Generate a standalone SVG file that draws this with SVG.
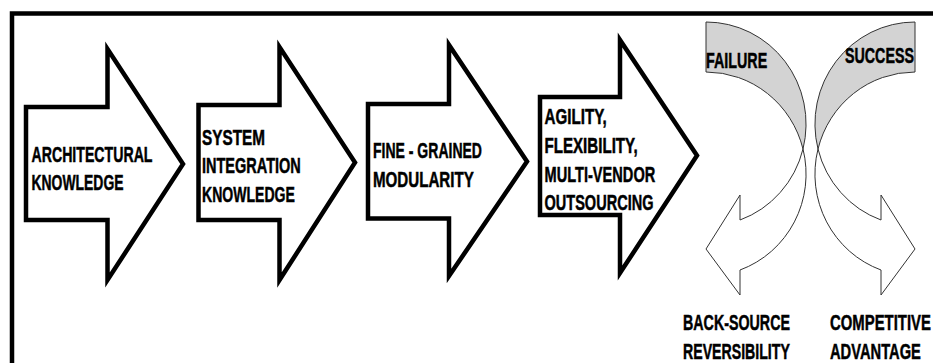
<svg xmlns="http://www.w3.org/2000/svg" width="933" height="363" viewBox="0 0 933 363">
<style>
.blk{fill:#fff;stroke:#000;stroke-width:4.5;stroke-linejoin:miter}
.back{fill:#d3d3d3;stroke:#333;stroke-width:1}
.front{fill:#fff;stroke:#333;stroke-width:1}
text{font-family:"Liberation Sans",Arial,sans-serif;font-weight:bold;font-size:22.5px;fill:#000;stroke:#000;stroke-width:0.5}
</style>
<rect width="933" height="363" fill="#fff"/>
<path id="frame" d="M12,363 L12,13.5 L933,13.5" fill="none" stroke="#000" stroke-width="4.5"/>
<g id="n1">
<path class="blk" d="M26,107 L107.5,107 L107.5,49 L183,164 L107.5,280 L107.5,220 L26,220 Z"/>
<text transform="translate(31.5,162) scale(0.629,1)">ARCHITECTURAL</text>
<text transform="translate(31.5,189.5) scale(0.619,1)">KNOWLEDGE</text>
</g>
<g id="n2">
<path class="blk" d="M198.5,105 L279.5,105 L279.5,47 L355,162.5 L279.5,280 L279.5,220 L198.5,220 Z"/>
<text transform="translate(202,144.5) scale(0.681,1)">SYSTEM</text>
<text transform="translate(202,173) scale(0.645,1)">INTEGRATION</text>
<text transform="translate(202,202) scale(0.625,1)">KNOWLEDGE</text>
</g>
<g id="n3">
<path class="blk" d="M368,104 L449,104 L449,45 L527,161.5 L449,276 L449,218.5 L368,218.5 Z"/>
<text transform="translate(373,158) scale(0.623,1)">FINE - GRAINED</text>
<text transform="translate(373,186.5) scale(0.673,1)">MODULARITY</text>
</g>
<g id="n4">
<path class="blk" d="M540,97 L620,97 L620,40 L697,155.5 L620,273 L620,215 L540,215 Z"/>
<text transform="translate(544.5,123.5) scale(0.674,1)">AGILITY,</text>
<text transform="translate(544.5,153) scale(0.672,1)">FLEXIBILITY,</text>
<text transform="translate(544.5,181.5) scale(0.649,1)">MULTI-VENDOR</text>
<text transform="translate(544.5,210) scale(0.646,1)">OUTSOURCING</text>
</g>
<g id="failure">
<path class="back" d="M706,22 A100,102 0 0 1 803,149 A100,102 0 0 0 706,72 Z"/>
<path class="front" d="M803,149 A100,102 0 0 1 740,270 L740,295 L706,249 L740,195 L740,220 A100,102 0 0 0 803,149 Z"/>
<text transform="translate(706,68.3) scale(0.636,1)">FAILURE</text>
<text transform="translate(683,330) scale(0.634,1)">BACK-SOURCE</text>
<text transform="translate(683,358.5) scale(0.629,1)">REVERSIBILITY</text>
</g>
<g id="success">
<path class="back" d="M915,22 A100,102 0 0 0 818,149 A100,102 0 0 1 915,72 Z"/>
<path class="front" d="M818,149 A100,102 0 0 0 881,270 L881,295 L915,249 L881,195 L881,220 A100,102 0 0 1 818,149 Z"/>
<text transform="translate(845,63) scale(0.634,1)">SUCCESS</text>
<text transform="translate(830,330) scale(0.662,1)">COMPETITIVE</text>
<text transform="translate(830,358.5) scale(0.653,1)">ADVANTAGE</text>
</g>
</svg>
